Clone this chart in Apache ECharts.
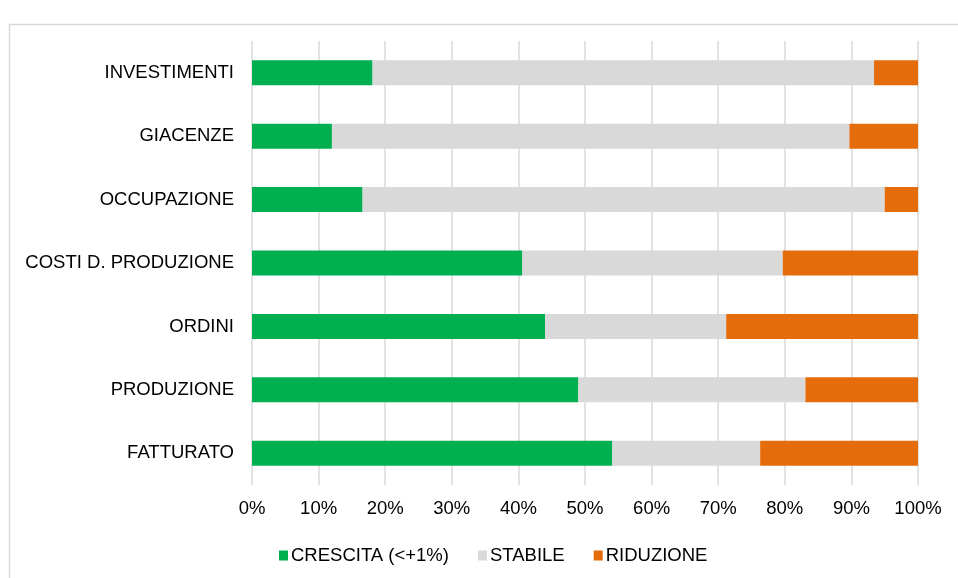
<!DOCTYPE html>
<html>
<head>
<meta charset="utf-8">
<script src="https://cdn.jsdelivr.net/npm/echarts@6/dist/echarts.min.js"></script>
<style>
  html, body { margin: 0; padding: 0; background: #fff; }
  #chart { width: 958px; height: 578px; }
</style>
</head>
<body>
<div id="chart"></div>
<script>
// categories bottom -> top
const categories = ["FATTURATO", "PRODUZIONE", "ORDINI", "COSTI D. PRODUZIONE", "OCCUPAZIONE", "GIACENZE", "INVESTIMENTI"]
const crescita = [54.1, 49.0, 44.0, 40.6, 16.6, 12.0, 18.1]
const stabile = [22.2, 34.1, 27.2, 39.1, 78.4, 77.7, 75.3]
const riduzione = [23.7, 16.9, 28.8, 20.3, 5.0, 10.3, 6.6]
const seriesNames = ["CRESCITA (<+1%)", "STABILE", "RIDUZIONE"]
const colors = ["#00B050", "#D9D9D9", "#E46C0A"]

const font = "Liberation Sans, Arial, sans-serif"
const chart = echarts.init(document.getElementById("chart"))

const bar = (name, data, color) => ({
  name: name,
  type: "bar",
  stack: "tot",
  barWidth: 25,
  itemStyle: { color: color },
  data: data
})

chart.setOption({
  animation: false,
  color: colors,
  textStyle: { fontFamily: font },
  graphic: [
    {
      // outer chart frame (cut off at right/bottom like the source)
      type: "rect",
      left: 7,
      top: 22,
      shape: { width: 1000, height: 600 },
      style: { fill: null, stroke: "#D9D9D9", lineWidth: 1.5 },
      silent: true,
      z: -1
    }
  ],
  grid: { left: 252, right: 40, top: 41, bottom: 93 },
  legend: {
    left: 274,
    top: 541,
    itemWidth: 9,
    itemHeight: 10,
    itemGap: 29,
    icon: "rect",
    textStyle: { fontSize: 18.5, color: "#000", fontFamily: font, padding: [0, 0, 0, -2] },
    data: seriesNames
  },
  xAxis: {
    type: "value",
    min: 0,
    max: 100,
    interval: 10,
    axisLine: { show: false },
    axisTick: { show: false },
    splitLine: { lineStyle: { color: "#D9D9D9", width: 1.5 } },
    axisLabel: { formatter: "{value}%", fontSize: 18.5, color: "#000", margin: 14, fontFamily: font }
  },
  yAxis: {
    type: "category",
    data: categories,
    axisLine: { show: false },
    axisTick: { show: false },
    axisLabel: { fontSize: 18.5, color: "#000", margin: 18, fontFamily: font }
  },
  series: [
    bar(seriesNames[0], crescita, colors[0]),
    bar(seriesNames[1], stabile, colors[1]),
    bar(seriesNames[2], riduzione, colors[2])
  ]
})
</script>
</body>
</html>
